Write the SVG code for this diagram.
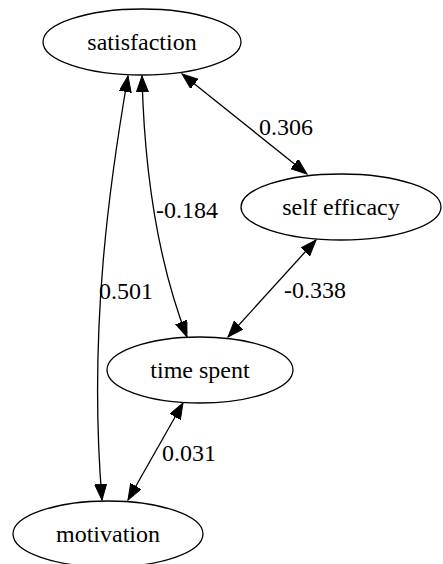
<svg xmlns="http://www.w3.org/2000/svg" width="443" height="564" viewBox="0 0 443 564">
<style>
.node ellipse{fill:none;stroke:#000;stroke-width:1.3}
text{font-family:'Liberation Serif','Times New Roman','DejaVu Serif',serif;font-size:24px;fill:#000}
.node text{text-anchor:middle}
.edges path{fill:none;stroke:#000;stroke-width:1.3;marker-start:url(#ah);marker-end:url(#ah)}
</style>
<defs>
<marker id="ah" markerUnits="userSpaceOnUse" markerWidth="17" markerHeight="13" refX="16" refY="6" orient="auto-start-reverse" viewBox="0 0 17 13">
<path d="M0,0 L16,6 L0,12 z" fill="#000" stroke="#000" stroke-width="1"/>
</marker>
</defs>
<rect width="443" height="564" fill="#fff"/>
<g class="edges">
<path d="M128,76 C110,180 88,330 102,500"/>
<path d="M142,76 C145,200 165,280 187,337"/>
<path d="M182,74 L307,174"/>
<path d="M316,240 L228,337"/>
<path d="M183,403 L128,500"/>
</g>
<g class="labels">
<text x="99" y="299">0.501</text>
<text x="156" y="218">-0.184</text>
<text x="259" y="135">0.306</text>
<text x="284" y="298">-0.338</text>
<text x="162" y="461">0.031</text>
</g>
<g class="node" id="satisfaction"><ellipse cx="142" cy="42" rx="99" ry="33"/><text x="142" y="50">satisfaction</text></g>
<g class="node" id="self_efficacy"><ellipse cx="341" cy="207" rx="100" ry="33"/><text x="341" y="215">self efficacy</text></g>
<g class="node" id="time_spent"><ellipse cx="200" cy="370" rx="93" ry="33"/><text x="200" y="378">time spent</text></g>
<g class="node" id="motivation"><ellipse cx="108" cy="534" rx="95" ry="33"/><text x="108" y="542">motivation</text></g>
</svg>
